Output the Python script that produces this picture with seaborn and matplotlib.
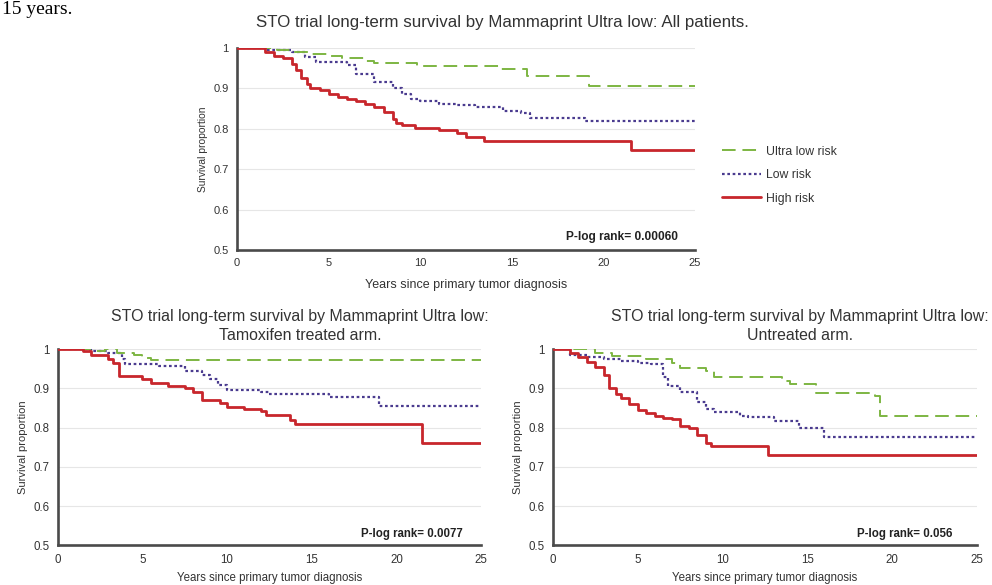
import matplotlib
matplotlib.use("Agg")
import matplotlib.pyplot as plt
import seaborn as sns
import pandas as pd
from matplotlib.lines import Line2D

sns.set_theme(style="white")
plt.rcParams['font.family'] = ['Liberation Sans', 'DejaVu Sans']

# ---------------- data ----------------
# All patients
all_ultra_t = [0, 1.5, 2.2, 3, 4, 5, 5.7, 7, 7.5, 9.8, 14.3, 15.8, 19.2, 25]
all_ultra_s = [1, 1, 0.995, 0.99, 0.985, 0.98, 0.975, 0.968, 0.963, 0.955, 0.947, 0.93, 0.905, 0.905]
all_low_t = [0, 1.5, 3, 3.7, 4.3, 6, 6.5, 7.5, 8.5, 9, 9.5, 10, 11, 12, 13, 14.5, 15.5, 16, 19, 25]
all_low_s = [1, 0.995, 0.99, 0.978, 0.965, 0.958, 0.935, 0.915, 0.9, 0.885, 0.875, 0.868, 0.862, 0.858, 0.855, 0.845, 0.84, 0.828, 0.82, 0.82]
all_high_t = [0, 1.5, 2, 2.5, 3, 3.2, 3.5, 3.8, 4, 4.5, 5, 5.5, 6, 6.5, 7, 7.5, 8, 8.5, 8.7, 9, 9.7, 11, 12, 12.5, 13.5, 21.5, 25]
all_high_s = [1, 0.99, 0.98, 0.975, 0.96, 0.945, 0.925, 0.91, 0.9, 0.895, 0.885, 0.878, 0.873, 0.87, 0.862, 0.855, 0.842, 0.825, 0.815, 0.81, 0.802, 0.797, 0.79, 0.78, 0.77, 0.748, 0.748]

# Tamoxifen treated arm
tam_ultra_t = [0, 1.9, 2.8, 3.5, 4.5, 5, 5.5, 25]
tam_ultra_s = [1, 0.995, 1, 0.99, 0.985, 0.978, 0.972, 0.972]
tam_low_t = [0, 2, 3, 3.8, 4, 6, 7.5, 8.5, 9, 9.5, 10, 12, 12.5, 16, 19, 25]
tam_low_s = [1, 0.995, 0.99, 0.975, 0.963, 0.958, 0.945, 0.935, 0.925, 0.91, 0.895, 0.89, 0.886, 0.877, 0.856, 0.856]
tam_high_t = [0, 1.5, 2, 3, 3.3, 3.6, 5, 5.5, 6.5, 7.5, 8, 8.5, 9.6, 10, 11, 12, 12.3, 13.7, 14, 21.5, 25]
tam_high_s = [1, 0.995, 0.985, 0.975, 0.965, 0.932, 0.925, 0.915, 0.905, 0.9, 0.89, 0.871, 0.862, 0.853, 0.847, 0.842, 0.832, 0.82, 0.81, 0.762, 0.762]

# Untreated arm
unt_ultra_t = [0, 2.5, 3.5, 5.5, 7, 7.5, 9, 9.5, 13.5, 14, 15.5, 19, 19.3, 25]
unt_ultra_s = [1, 0.99, 0.983, 0.975, 0.964, 0.953, 0.945, 0.93, 0.92, 0.911, 0.889, 0.88, 0.83, 0.83]
unt_low_t = [0, 1, 2, 3, 4, 5, 5.8, 6.5, 6.8, 7.5, 8.5, 9, 9.5, 11, 11.5, 13, 14.5, 16, 25]
unt_low_s = [1, 0.985, 0.98, 0.975, 0.97, 0.965, 0.962, 0.93, 0.907, 0.89, 0.865, 0.848, 0.841, 0.83, 0.826, 0.816, 0.799, 0.777, 0.777]
unt_high_t = [0, 1, 1.5, 2, 2.5, 3, 3.3, 3.7, 4, 4.5, 5, 5.5, 6, 6.5, 7, 7.5, 8, 8.5, 9, 9.3, 12.7, 25]
unt_high_s = [1, 0.99, 0.98, 0.968, 0.955, 0.935, 0.9, 0.885, 0.875, 0.861, 0.845, 0.838, 0.83, 0.825, 0.822, 0.805, 0.8, 0.78, 0.76, 0.752, 0.731, 0.731]

series_labels = ["Ultra low risk", "Low risk", "High risk"]
titles = ["STO trial long-term survival by Mammaprint Ultra low: All patients.",
          "STO trial long-term survival by Mammaprint Ultra low:\nTamoxifen treated arm.",
          "STO trial long-term survival by Mammaprint Ultra low:\nUntreated arm."]
pvalues = ["P-log rank= 0.00060", "P-log rank= 0.0077", "P-log rank= 0.056"]
x_ticks = [0, 5, 10, 15, 20, 25]
y_ticks = [0.5, 0.6, 0.7, 0.8, 0.9, 1.0]
y_ticklabels = ["0.5", "0.6", "0.7", "0.8", "0.9", "1"]
page_fragment = "15 years."

colors = ["#7db542", "#4a3b8f", "#c8262c"]
styles = [(0, (7, 3.5)), (0, (1.2, 1.2)), "-"]
widths = [1.4, 1.6, 2.0]

panels = [
    [(all_ultra_t, all_ultra_s), (all_low_t, all_low_s), (all_high_t, all_high_s)],
    [(tam_ultra_t, tam_ultra_s), (tam_low_t, tam_low_s), (tam_high_t, tam_high_s)],
    [(unt_ultra_t, unt_ultra_s), (unt_low_t, unt_low_s), (unt_high_t, unt_high_s)],
]

fig = plt.figure(figsize=(9.92, 5.85), dpi=100)
rects = [
    [0.239, 0.5726, 0.4617, 0.3453],
    [0.058, 0.068, 0.427, 0.335],
    [0.5575, 0.068, 0.4274, 0.335],
]
title_sizes = [12.2, 11.4, 11.4]
title_pads = [15, 7, 7]
title_x = [0.58, 0.572, 0.583]
xlabel_sizes = [9, 8.3, 8.3]
xlabel_pads = [8, 5, 5]
ylabel_sizes = [7.4, 8, 8]
tick_sizes = [8, 8.3, 8.3]
pval_sizes = [8.6, 8.3, 8.3]
pval_x = [0.963, 0.957, 0.943]
pval_y = [0.035, 0.025, 0.025]

axes = []
for i, rect in enumerate(rects):
    ax = fig.add_axes(rect)
    axes.append(ax)
    for j, (t, s) in enumerate(panels[i]):
        df = pd.DataFrame({"t": t, "s": s})
        sns.lineplot(data=df, x="t", y="s", ax=ax, drawstyle="steps-post",
                     color=colors[j], linestyle=styles[j], linewidth=widths[j],
                     estimator=None, sort=False, zorder=3 - j if j < 2 else 4)
    ax.set_xlim(0, 25)
    ax.set_ylim(0.5, 1.0)
    ax.set_xticks(x_ticks)
    ax.set_xticklabels([str(v) for v in x_ticks])
    ax.set_yticks(y_ticks)
    ax.set_yticklabels(y_ticklabels)
    ax.tick_params(axis="both", labelsize=tick_sizes[i], colors="#333333", length=0, pad=6)
    ax.grid(axis="y", color="#e6e6e6", linewidth=0.8)
    ax.grid(axis="x", visible=False)
    for sp in ["top", "right"]:
        ax.spines[sp].set_visible(False)
    for sp in ["left", "bottom"]:
        ax.spines[sp].set_color("#4a4a4a")
        ax.spines[sp].set_linewidth(1.9)
    ax.set_xlabel("Years since primary tumor diagnosis", fontsize=xlabel_sizes[i],
                  color="#333333", labelpad=xlabel_pads[i])
    ax.set_ylabel("Survival proportion", fontsize=ylabel_sizes[i], color="#333333", labelpad=4)
    ax.set_title(titles[i], fontsize=title_sizes[i], color="#333333", pad=title_pads[i],
                 x=title_x[i], linespacing=1.3)
    ax.text(pval_x[i], pval_y[i], pvalues[i], transform=ax.transAxes, ha="right", va="bottom",
            fontsize=pval_sizes[i], fontweight="bold", color="#222222")

handles = [Line2D([0], [0], color=colors[j], linestyle=styles[j], linewidth=widths[j])
           for j in range(3)]
fig.legend(handles, series_labels, loc="upper left", bbox_to_anchor=(0.717, 0.77),
           frameon=False, fontsize=8.8, handlelength=3.2, handletextpad=0.4,
           labelspacing=0.95, labelcolor="#333333")

fig.text(0.002, 0.998, page_fragment, fontsize=14, family=["Liberation Serif"], va="top",
         ha="left", color="black")

fig.savefig("out.png", dpi=100)
